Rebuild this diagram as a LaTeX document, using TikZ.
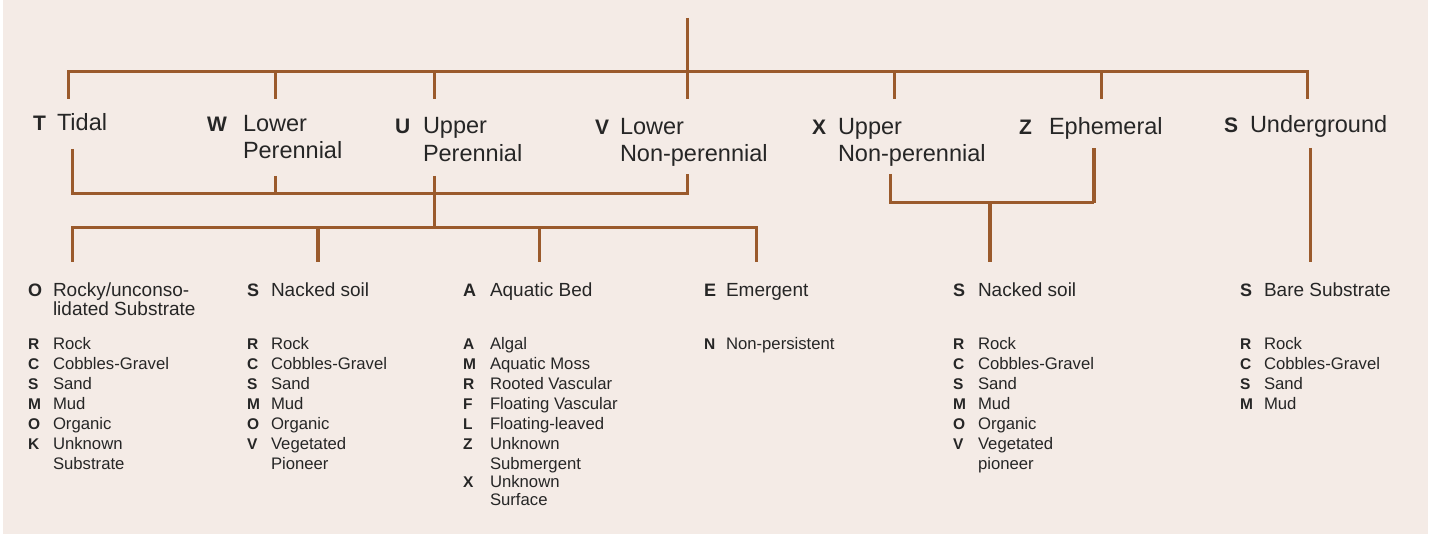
\documentclass[tikz,border=0pt]{standalone}
\usepackage{fontspec}
\setmainfont{Liberation Sans}
\definecolor{paper}{HTML}{F4EBE6}
\definecolor{rust}{HTML}{9A5A2C}
\definecolor{ink}{HTML}{262626}

\begin{document}
\begin{tikzpicture}[x=1pt,y=-1pt,
  wire/.style={draw=rust,line width=3pt},
  wirebold/.style={draw=rust,line width=4.6pt},
  txt/.style={inner sep=0pt,outer sep=0pt,anchor=base west,text=ink},
  hkey/.style={txt,font=\fontsize{21}{26}\selectfont\bfseries},
  hname/.style={txt,font=\fontsize{23.5}{27}\selectfont},
  ckey/.style={txt,font=\fontsize{18}{20}\selectfont\bfseries},
  cname/.style={txt,font=\fontsize{19}{20}\selectfont},
  lkey/.style={txt,font=\fontsize{15.5}{20}\selectfont\bfseries},
  ltext/.style={txt,font=\fontsize{16.7}{20}\selectfont},
]
\useasboundingbox (0,0) rectangle (1437,537);
\fill[paper] (3,0) rectangle (1428,534);

% ---------- regime headings ----------
\node[hkey]  (kT) at (33,131) {T};
\node[hname] (nT) at (57,131) {Tidal};
\node[hkey]  (kW) at (207,131.5) {W};
\node[hname] (nW) at (243,131.5) {Lower};
\node[hname] (nW2) at (243,159) {Perennial};
\node[hkey]  (kU) at (395,134) {U};
\node[hname] (nU) at (423,134) {Upper};
\node[hname] (nU2) at (423,161.5) {Perennial};
\node[hkey]  (kV) at (595,135) {V};
\node[hname] (nV) at (620,135) {Lower};
\node[hname] (nV2) at (620,162) {Non-perennial};
\node[hkey]  (kX) at (812,135) {X};
\node[hname] (nX) at (838,135) {Upper};
\node[hname] (nX2) at (838,162) {Non-perennial};
\node[hkey]  (kZ) at (1019,135) {Z};
\node[hname] (nZ) at (1049,135) {Ephemeral};
\node[hkey]  (kS) at (1224,133) {S};
\node[hname] (nS) at (1250,133) {Underground};

% ---------- top tree ----------
\coordinate (root) at (687,18);
\coordinate (barL) at (68,72);
\coordinate (barR) at (1307,72);
\coordinate (dT) at (68,99);
\coordinate (dW) at (275,99);
\coordinate (dU) at (434,99);
\coordinate (dV) at (687,99);
\coordinate (dX) at (894,99);
\coordinate (dZ) at (1101,99);
\coordinate (dS) at (1307,99);
\draw[wire] (dT) -- (barL) -- (barR) -- (dS);
\draw[wire] (root) -- (dV);
\foreach \d in {dW,dU,dX,dZ} \draw[wire] (\d) -- (\d |- barL);

% ---------- T/W/U/V bracket ----------
\coordinate (uT) at (72,149);
\coordinate (uW) at (275,176);
\coordinate (uU) at (434,176);
\coordinate (uV) at (687,174);
\coordinate (jL) at (72,194);
\coordinate (jR) at (687,194);
\draw[wire] (uT) -- (jL) -- (jR) -- (uV);
\draw[wire] (uW) -- (uW |- jL);
\coordinate (fork) at (434,228);
\draw[wire] (uU) -- (fork);
\coordinate (fL) at (72,228);
\coordinate (fR) at (756,228);
\coordinate (sO) at (72,262);
\coordinate (sS) at (318,262);
\coordinate (sA) at (539,262);
\coordinate (sE) at (756,262);
\draw[wire] (sO) -- (fL) -- (fR) -- (sE);
\draw[wirebold] (sS) -- (sS |- fL);
\draw[wire] (sA) -- (sA |- fL);

% ---------- X/Z bracket ----------
\coordinate (uX) at (890,174);
\coordinate (uZ) at (1094,148);
\coordinate (jX) at (890,203);
\coordinate (jZ) at (1094,203);
\draw[wire] (uX) -- (jX) -- (jZ);
\draw[wirebold] (jZ) -- (uZ);
\coordinate (sN) at (990,262);
\draw[wirebold] (sN) -- (sN |- jX);

% ---------- underground stem ----------
\coordinate (uS) at (1310,148);
\coordinate (sB) at (1310,262);
\draw[wire] (uS) -- (sB);

% ---------- class headings ----------
\node[ckey]  (cO) at (28,296) {O};
\node[cname] (cOn) at (53,296) {Rocky/unconso-};
\node[cname] (cOn2) at (53,315) {lidated Substrate};
\node[ckey]  (cS) at (247,296) {S};
\node[cname] (cSn) at (271,296) {Nacked soil};
\node[ckey]  (cA) at (463,296) {A};
\node[cname] (cAn) at (490,296) {Aquatic Bed};
\node[ckey]  (cE) at (704,296) {E};
\node[cname] (cEn) at (726,296) {Emergent};
\node[ckey]  (cN) at (953,296) {S};
\node[cname] (cNn) at (978,296) {Nacked soil};
\node[ckey]  (cB) at (1240,296) {S};
\node[cname] (cBn) at (1264,296) {Bare Substrate};

% ---------- subclass lists ----------
\foreach \yy/\kk/\lab in {349/R/Rock,369/C/Cobbles-Gravel,389/S/Sand,409/M/Mud,429/O/Organic,449/K/Unknown}{
  \node[lkey] (aK\yy) at (28,\yy) {\kk};
  \node[ltext] (aT\yy) at (53,\yy) {\lab};
}
\node[ltext] (aT469) at (53,469) {Substrate};

\foreach \yy/\kk/\lab in {349/R/Rock,369/C/Cobbles-Gravel,389/S/Sand,409/M/Mud,429/O/Organic,449/V/Vegetated}{
  \node[lkey] (bK\yy) at (247,\yy) {\kk};
  \node[ltext] (bT\yy) at (271,\yy) {\lab};
}
\node[ltext] (bT469) at (271,469) {Pioneer};

\foreach \yy/\kk/\lab in {349/A/Algal,369/M/Aquatic Moss,389/R/Rooted Vascular,409/F/Floating Vascular,429/L/Floating-leaved,449/Z/Unknown,487/X/Unknown}{
  \node[lkey] (cK\yy) at (463,\yy) {\kk};
  \node[ltext] (cT\yy) at (490,\yy) {\lab};
}
\node[ltext] (cT469) at (490,469) {Submergent};
\node[ltext] (cT505) at (490,505) {Surface};

\node[lkey] (dK349) at (704,349) {N};
\node[ltext] (dT349) at (726,349) {Non-persistent};

\foreach \yy/\kk/\lab in {349/R/Rock,369/C/Cobbles-Gravel,389/S/Sand,409/M/Mud,429/O/Organic,449/V/Vegetated}{
  \node[lkey] (eK\yy) at (953,\yy) {\kk};
  \node[ltext] (eT\yy) at (978,\yy) {\lab};
}
\node[ltext] (eT469) at (978,469) {pioneer};

\foreach \yy/\kk/\lab in {349/R/Rock,369/C/Cobbles-Gravel,389/S/Sand,409/M/Mud}{
  \node[lkey] (fK\yy) at (1240,\yy) {\kk};
  \node[ltext] (fT\yy) at (1264,\yy) {\lab};
}
\end{tikzpicture}
\end{document}
